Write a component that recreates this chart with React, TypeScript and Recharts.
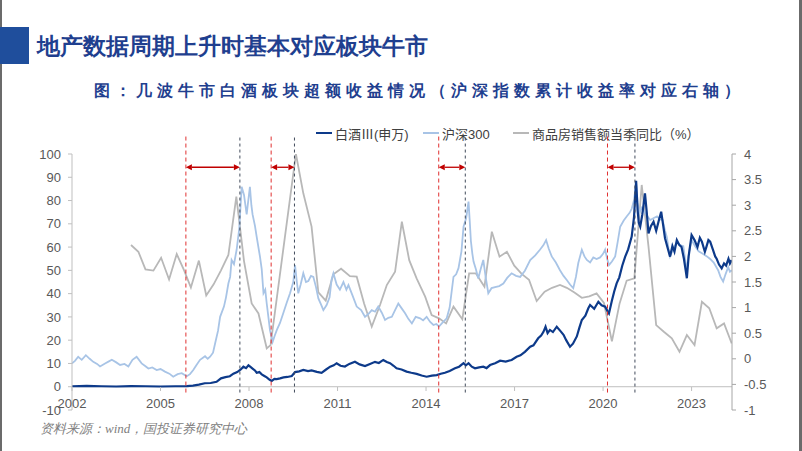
import React from 'react';
import { LineChart, Line, XAxis, YAxis, ReferenceLine } from 'recharts';

// 白酒Ⅲ(申万), left axis: [year, value]
const baijiu: [number, number][] = [
  [2002.0, 0.2], [2002.5, 0.4], [2003.0, 0.2], [2003.5, 0.1], [2004.0, 0.3], [2004.5, 0.2], [2005.0, 0.1], [2005.5, 0.2],
  [2005.89, 0.3], [2006.1, 0.5], [2006.3, 0.9], [2006.5, 1.5], [2006.7, 1.6], [2006.9, 2.1], [2007.05, 3.6], [2007.2, 4.1],
  [2007.35, 4.5], [2007.47, 5.6], [2007.6, 6.3], [2007.72, 7.4], [2007.81, 8.6], [2007.9, 8.0], [2007.98, 9.2], [2008.06, 8.4],
  [2008.13, 7.7], [2008.2, 7.0], [2008.26, 6.0], [2008.35, 6.3], [2008.43, 5.3], [2008.52, 4.6], [2008.6, 4.0], [2008.7, 3.0],
  [2008.77, 2.5], [2008.86, 3.4], [2008.94, 3.3], [2009.05, 3.6], [2009.17, 4.0], [2009.3, 4.2], [2009.45, 4.6], [2009.56, 6.3],
  [2009.7, 6.6], [2009.84, 7.2], [2010.0, 6.7], [2010.12, 7.0], [2010.3, 6.4], [2010.46, 6.0], [2010.6, 7.3], [2010.75, 8.6],
  [2010.87, 9.2], [2010.97, 10.1], [2011.1, 9.0], [2011.25, 8.7], [2011.4, 9.8], [2011.59, 10.7], [2011.75, 9.6], [2011.93, 8.9],
  [2012.1, 9.8], [2012.27, 10.7], [2012.4, 10.2], [2012.55, 11.5], [2012.67, 10.6], [2012.78, 10.1], [2012.9, 9.0], [2013.0, 7.9],
  [2013.17, 7.4], [2013.34, 6.5], [2013.5, 6.0], [2013.68, 5.5], [2013.85, 4.8], [2014.02, 4.3], [2014.2, 4.8], [2014.36, 5.0],
  [2014.5, 5.6], [2014.64, 6.0], [2014.8, 6.8], [2014.98, 7.9], [2015.12, 8.6], [2015.27, 10.1], [2015.35, 9.2], [2015.44, 10.1],
  [2015.55, 8.6], [2015.66, 7.9], [2015.8, 8.3], [2015.94, 8.6], [2016.05, 8.0], [2016.17, 9.3], [2016.34, 10.1], [2016.51, 11.2],
  [2016.7, 10.8], [2016.9, 11.5], [2017.07, 12.9], [2017.2, 13.5], [2017.35, 15.0], [2017.53, 17.2], [2017.64, 17.8], [2017.8, 20.8],
  [2017.9, 22.0], [2017.98, 23.6], [2018.05, 25.8], [2018.12, 23.0], [2018.2, 24.4], [2018.3, 23.5], [2018.43, 25.8], [2018.55, 24.0],
  [2018.66, 22.3], [2018.75, 20.0], [2018.88, 17.2], [2018.98, 18.5], [2019.11, 21.6], [2019.2, 25.5], [2019.28, 28.7], [2019.4, 30.5],
  [2019.5, 33.7], [2019.56, 35.1], [2019.7, 33.5], [2019.84, 36.5], [2019.95, 35.0], [2020.07, 34.4], [2020.15, 32.5], [2020.2, 31.5],
  [2020.3, 37.0], [2020.38, 41.0], [2020.46, 44.4], [2020.55, 47.0], [2020.65, 52.0], [2020.75, 55.9], [2020.85, 59.0], [2020.97, 64.5],
  [2021.05, 73.0], [2021.12, 88.5], [2021.17, 76.0], [2021.21, 70.5], [2021.26, 68.8], [2021.33, 74.0], [2021.42, 83.1], [2021.48, 75.0],
  [2021.54, 65.9], [2021.62, 69.0], [2021.71, 70.9], [2021.8, 67.0], [2021.9, 72.0], [2021.97, 75.2], [2022.03, 70.0], [2022.1, 63.8],
  [2022.18, 60.0], [2022.27, 55.9], [2022.35, 60.5], [2022.42, 58.0], [2022.5, 63.0], [2022.58, 61.0], [2022.66, 60.0], [2022.74, 55.0],
  [2022.8, 50.0], [2022.84, 46.6], [2022.9, 56.0], [2023.0, 65.2], [2023.1, 63.0], [2023.2, 60.0], [2023.28, 64.0], [2023.35, 62.3],
  [2023.45, 58.0], [2023.5, 60.0], [2023.57, 63.0], [2023.63, 62.3], [2023.72, 59.0], [2023.8, 56.0], [2023.85, 55.0], [2023.93, 52.5],
  [2024.02, 50.9], [2024.1, 53.0], [2024.17, 52.0], [2024.25, 55.0], [2024.3, 53.0], [2024.36, 54.4],
];

// 沪深300 cumulative return, right axis
const hs300: [number, number][] = [
  [2002.0, -0.09], [2002.1, -0.04], [2002.21, 0.04], [2002.33, -0.02], [2002.47, 0.07], [2002.6, 0.0], [2002.72, -0.06], [2002.85, -0.1],
  [2002.95, -0.15], [2003.12, -0.09], [2003.25, -0.05], [2003.35, -0.02], [2003.5, -0.07], [2003.63, -0.12], [2003.78, -0.1], [2003.91, -0.15],
  [2004.05, -0.02], [2004.19, 0.04], [2004.36, -0.09], [2004.48, -0.14], [2004.59, -0.19], [2004.72, -0.17], [2004.87, -0.22], [2005.0, -0.2],
  [2005.15, -0.25], [2005.3, -0.29], [2005.43, -0.35], [2005.58, -0.3], [2005.72, -0.28], [2005.89, -0.34], [2006.0, -0.3], [2006.11, -0.22],
  [2006.22, -0.12], [2006.34, -0.02], [2006.51, 0.05], [2006.6, 0.0], [2006.68, 0.04], [2006.78, 0.12], [2006.85, 0.3], [2006.95, 0.55],
  [2007.02, 0.82], [2007.15, 1.02], [2007.22, 1.2], [2007.3, 1.47], [2007.36, 1.6], [2007.41, 1.93], [2007.49, 1.85], [2007.58, 2.13],
  [2007.67, 2.55], [2007.75, 3.36], [2007.83, 3.2], [2007.92, 2.82], [2008.03, 3.36], [2008.08, 3.0], [2008.12, 2.82], [2008.2, 2.6],
  [2008.26, 2.38], [2008.37, 2.0], [2008.43, 1.75], [2008.49, 1.28], [2008.55, 1.35], [2008.6, 1.08], [2008.66, 0.8], [2008.71, 0.56],
  [2008.8, 0.33], [2008.87, 0.45], [2008.94, 0.56], [2009.05, 0.7], [2009.16, 0.89], [2009.28, 1.1], [2009.39, 1.28], [2009.5, 1.5],
  [2009.56, 1.83], [2009.62, 1.5], [2009.67, 1.28], [2009.75, 1.45], [2009.84, 1.67], [2009.93, 1.5], [2010.01, 1.52], [2010.1, 1.62],
  [2010.18, 1.6], [2010.27, 1.4], [2010.35, 1.18], [2010.45, 1.05], [2010.52, 0.95], [2010.63, 1.05], [2010.73, 1.2], [2010.8, 1.55],
  [2010.86, 1.67], [2010.97, 1.45], [2011.08, 1.35], [2011.2, 1.5], [2011.3, 1.35], [2011.37, 1.44], [2011.5, 1.25], [2011.65, 1.02],
  [2011.8, 0.95], [2011.93, 0.82], [2012.05, 0.88], [2012.16, 0.95], [2012.27, 0.92], [2012.38, 1.02], [2012.5, 0.9], [2012.61, 0.76],
  [2012.72, 0.8], [2012.84, 0.82], [2012.95, 0.95], [2013.06, 1.08], [2013.18, 0.98], [2013.29, 0.89], [2013.4, 0.78], [2013.52, 0.69],
  [2013.65, 0.82], [2013.8, 0.79], [2013.9, 0.75], [2014.02, 0.82], [2014.14, 0.72], [2014.25, 0.66], [2014.35, 0.68], [2014.44, 0.63],
  [2014.55, 0.7], [2014.7, 0.79], [2014.8, 1.0], [2014.93, 1.6], [2015.02, 1.65], [2015.1, 1.77], [2015.2, 2.1], [2015.27, 2.58],
  [2015.36, 2.75], [2015.44, 3.07], [2015.48, 2.7], [2015.52, 2.3], [2015.57, 2.05], [2015.61, 1.9], [2015.69, 1.75], [2015.77, 1.57],
  [2015.85, 1.75], [2015.94, 1.93], [2016.02, 1.6], [2016.11, 1.28], [2016.22, 1.38], [2016.34, 1.4], [2016.48, 1.42], [2016.62, 1.47],
  [2016.75, 1.58], [2016.9, 1.67], [2017.05, 1.62], [2017.19, 1.6], [2017.35, 1.72], [2017.53, 1.93], [2017.7, 2.02], [2017.86, 2.13],
  [2017.98, 2.22], [2018.07, 2.32], [2018.16, 2.15], [2018.26, 2.0], [2018.4, 1.88], [2018.54, 1.73], [2018.66, 1.62], [2018.77, 1.54],
  [2018.88, 1.45], [2018.99, 1.38], [2019.08, 1.6], [2019.16, 1.87], [2019.28, 2.13], [2019.37, 2.0], [2019.45, 1.93], [2019.56, 1.88],
  [2019.67, 1.98], [2019.78, 1.95], [2019.9, 1.98], [2020.0, 2.05], [2020.07, 2.13], [2020.14, 1.95], [2020.2, 1.83], [2020.3, 1.9],
  [2020.41, 2.0], [2020.5, 2.3], [2020.58, 2.58], [2020.7, 2.7], [2020.8, 2.78], [2020.9, 2.85], [2020.97, 2.93], [2021.05, 3.1],
  [2021.12, 3.43], [2021.17, 3.05], [2021.23, 2.85], [2021.3, 2.95], [2021.37, 2.9], [2021.48, 2.8], [2021.6, 2.71], [2021.72, 2.75],
  [2021.83, 2.78], [2021.93, 2.72], [2022.02, 2.71], [2022.1, 2.5], [2022.16, 2.38], [2022.22, 2.15], [2022.27, 2.0], [2022.38, 2.15],
  [2022.5, 2.27], [2022.61, 2.22], [2022.72, 2.2], [2022.78, 1.95], [2022.84, 1.73], [2022.92, 2.1], [2023.0, 2.32], [2023.12, 2.2],
  [2023.24, 2.1], [2023.38, 2.05], [2023.52, 2.0], [2023.63, 1.95], [2023.75, 1.88], [2023.9, 1.73], [2023.98, 1.6], [2024.07, 1.51],
  [2024.15, 1.65], [2024.24, 1.79], [2024.3, 1.7], [2024.36, 1.73],
];

// 商品房销售额当季同比（%）, left axis
const salesYoy: [number, number][] = [
  [2004.0, 60.9], [2004.25, 58.0], [2004.49, 50.4], [2004.76, 49.9], [2005.02, 55.4], [2005.29, 46.1], [2005.55, 57.0], [2005.8, 50.0],
  [2006.03, 42.6], [2006.3, 54.2], [2006.55, 39.2], [2006.8, 44.0], [2007.05, 50.0], [2007.3, 56.6], [2007.57, 81.7], [2007.83, 54.0],
  [2008.09, 35.8], [2008.32, 31.5], [2008.6, 16.5], [2008.73, 17.9], [2009.59, 100.0], [2009.84, 83.1], [2010.12, 68.8], [2010.35, 40.5],
  [2010.6, 37.0], [2010.86, 48.3], [2011.12, 50.7], [2011.42, 47.5], [2011.65, 47.3], [2011.9, 35.8], [2012.16, 25.8], [2012.44, 35.1],
  [2012.67, 43.7], [2012.95, 49.4], [2013.18, 70.9], [2013.43, 54.4], [2013.68, 46.6], [2013.97, 38.7], [2014.19, 30.8], [2014.44, 29.4],
  [2014.68, 27.2], [2014.93, 34.4], [2015.23, 29.0], [2015.46, 48.7], [2015.69, 48.7], [2015.98, 43.0], [2016.23, 66.6], [2016.49, 55.9],
  [2016.74, 58.0], [2016.99, 52.0], [2017.24, 48.5], [2017.49, 46.0], [2017.75, 36.8], [2018.02, 40.8], [2018.27, 42.5], [2018.54, 43.7],
  [2018.77, 42.5], [2019.03, 40.5], [2019.28, 38.2], [2019.53, 38.8], [2019.78, 40.1], [2020.03, 36.0], [2020.3, 19.5], [2020.56, 35.8],
  [2020.8, 45.6], [2021.06, 46.6], [2021.31, 86.7], [2021.54, 60.2], [2021.8, 26.5], [2022.07, 23.5], [2022.33, 20.8], [2022.59, 15.0],
  [2022.84, 22.2], [2023.1, 17.9], [2023.35, 36.5], [2023.6, 33.7], [2023.85, 25.1], [2024.1, 27.2], [2024.36, 18.6],
];

// bull market windows: start (red) / end (dark) of each
const bullStarts = [2005.86, 2008.75, 2014.43, 2020.15];
const bullEnds = [2007.69, 2009.54, 2015.33, 2021.08];

const yearTicks = [2002, 2005, 2008, 2011, 2014, 2017, 2020, 2023];
const leftTicks = [-10, 0, 10, 20, 30, 40, 50, 60, 70, 80, 90, 100];
const rightTicks = [-1, -0.5, 0, 0.5, 1, 1.5, 2, 2.5, 3, 3.5, 4];

const toRows = (arr: [number, number][]) => arr.map(([t, v]) => ({ t, v }));

const NAVY = '#0d3a8a';
const LIGHT = '#a8c4e6';
const GRAY = '#b8b8b8';
const RED = '#c00000';
const AXIS = '#bfbfbf';
const TICK_TEXT = '#595959';
const latin = '"Liberation Sans", Arial, "Noto Sans CJK SC", sans-serif';

const YearTick = (props: any) => {
  const { x, y, payload } = props;
  return (
    <g>
      <line x1={x} x2={x} y1={y - 23} y2={y - 19} stroke={AXIS} />
      <text x={x} y={y - 2} textAnchor="middle" fill={TICK_TEXT} fontSize={13} fontFamily={latin}>
        {payload.value}
      </text>
    </g>
  );
};

const ArrowShape = (p: any) => {
  const x1 = Math.min(p.x1, p.x2);
  const x2 = Math.max(p.x1, p.x2);
  const y = p.y1;
  const w = 6;
  const h = 3;
  return (
    <g>
      <line x1={x1 + w} x2={x2 - w} y1={y} y2={y} stroke={RED} strokeWidth={1.3} />
      <polygon points={`${x1},${y} ${x1 + w},${y - h} ${x1 + w},${y + h}`} fill={RED} />
      <polygon points={`${x2},${y} ${x2 - w},${y - h} ${x2 - w},${y + h}`} fill={RED} />
    </g>
  );
};

const legendItems = [
  { name: '白酒Ⅲ(申万)', color: NAVY, width: 2.5, left: 316 },
  { name: '沪深300', color: LIGHT, width: 2, left: 423 },
  { name: '商品房销售额当季同比（%）', color: GRAY, width: 2, left: 513 },
];

export default function App() {
  return (
    <div
      style={{
        position: 'absolute',
        left: 0,
        top: 0,
        width: 802,
        height: 451,
        background: '#fff',
        overflow: 'hidden',
      }}
    >
      <div style={{ position: 'absolute', left: 0, top: 0, width: 2, height: 451, background: '#6b6b6b' }} />
      <div style={{ position: 'absolute', left: 799, top: 0, width: 3, height: 451, background: '#6b6b6b' }} />

      <div style={{ position: 'absolute', left: 0, top: 27, width: 29, height: 37, background: '#1f4e9c' }} />
      <div
        style={{
          position: 'absolute',
          left: 37,
          top: 31,
          lineHeight: '31px',
          fontSize: 23,
          fontWeight: 'bold',
          color: '#1f3f8f',
          fontFamily: 'serif',
          whiteSpace: 'nowrap',
        }}
      >
        地产数据周期上升时基本对应板块牛市
      </div>
      <div
        style={{
          position: 'absolute',
          left: 94,
          top: 78,
          lineHeight: '26px',
          fontSize: 16,
          letterSpacing: 5,
          fontWeight: 'bold',
          color: '#1f3f8f',
          fontFamily: 'serif',
          whiteSpace: 'nowrap',
        }}
      >
        图：几波牛市白酒板块超额收益情况（沪深指数累计收益率对应右轴）
      </div>

      {legendItems.map((it) => (
        <div
          key={it.name}
          style={{
            position: 'absolute',
            left: it.left,
            top: 123,
            height: 20,
            display: 'flex',
            alignItems: 'center',
            whiteSpace: 'nowrap',
            fontFamily: latin,
            fontSize: 13,
            color: '#404040',
          }}
        >
          <span style={{ display: 'inline-block', width: 16, height: it.width, background: it.color, marginRight: 3 }} />
          {it.name}
        </div>
      ))}

      <LineChart
        width={802}
        height={451}
        margin={{ top: 154, right: 0, bottom: 11, left: 0 }}
        style={{ position: 'absolute', left: 0, top: 0 }}
      >
        <XAxis
          dataKey="t"
          type="number"
          domain={[2002, 2024.37]}
          ticks={yearTicks}
          allowDataOverflow
          height={30}
          axisLine={false}
          tickLine={false}
          tickSize={0}
          tickMargin={0}
          tick={<YearTick />}
        />
        <YAxis
          yAxisId="left"
          width={72}
          domain={[-10, 100]}
          ticks={leftTicks}
          allowDataOverflow
          tickSize={4}
          tickMargin={7}
          axisLine={{ stroke: AXIS }}
          tickLine={{ stroke: AXIS }}
          tick={{ fill: TICK_TEXT, fontSize: 13, fontFamily: latin }}
        />
        <YAxis
          yAxisId="right"
          orientation="right"
          width={70}
          domain={[-1, 4]}
          ticks={rightTicks}
          allowDataOverflow
          tickSize={4}
          tickMargin={8}
          axisLine={{ stroke: '#a6a6a6' }}
          tickLine={{ stroke: '#a6a6a6' }}
          tick={{ fill: TICK_TEXT, fontSize: 13, fontFamily: latin }}
        />
        <ReferenceLine yAxisId="left" y={0} stroke={AXIS} strokeWidth={1} />

        <Line
          yAxisId="left"
          data={toRows(salesYoy)}
          dataKey="v"
          stroke={GRAY}
          strokeWidth={1.8}
          dot={false}
          isAnimationActive={false}
        />
        <Line
          yAxisId="right"
          data={toRows(hs300)}
          dataKey="v"
          stroke={LIGHT}
          strokeWidth={1.8}
          dot={false}
          isAnimationActive={false}
        />
        <Line
          yAxisId="left"
          data={toRows(baijiu)}
          dataKey="v"
          stroke={NAVY}
          strokeWidth={2.2}
          dot={false}
          isAnimationActive={false}
        />

        {bullStarts.map((t) => (
          <ReferenceLine
            key={`s${t}`}
            yAxisId="left"
            ifOverflow="visible"
            segment={[{ x: t, y: -2.5 }, { x: t, y: 107.5 }]}
            stroke="#e03030"
            strokeWidth={1}
            strokeDasharray="4 3"
          />
        ))}
        {bullEnds.map((t) => (
          <ReferenceLine
            key={`e${t}`}
            yAxisId="left"
            ifOverflow="visible"
            segment={[{ x: t, y: -2.5 }, { x: t, y: 107.5 }]}
            stroke="#404a5a"
            strokeWidth={1}
            strokeDasharray="3 3"
          />
        ))}
        {bullStarts.map((t, i) => (
          <ReferenceLine
            key={`a${t}`}
            yAxisId="left"
            ifOverflow="visible"
            segment={[{ x: t, y: 94.3 }, { x: bullEnds[i], y: 94.3 }]}
            shape={ArrowShape}
          />
        ))}
      </LineChart>

      <div
        style={{
          position: 'absolute',
          left: 40,
          top: 420,
          lineHeight: '18px',
          fontSize: 13,
          fontStyle: 'italic',
          color: '#808080',
          fontFamily: 'serif',
          whiteSpace: 'nowrap',
        }}
      >
        资料来源：wind，国投证券研究中心
      </div>
    </div>
  );
}
